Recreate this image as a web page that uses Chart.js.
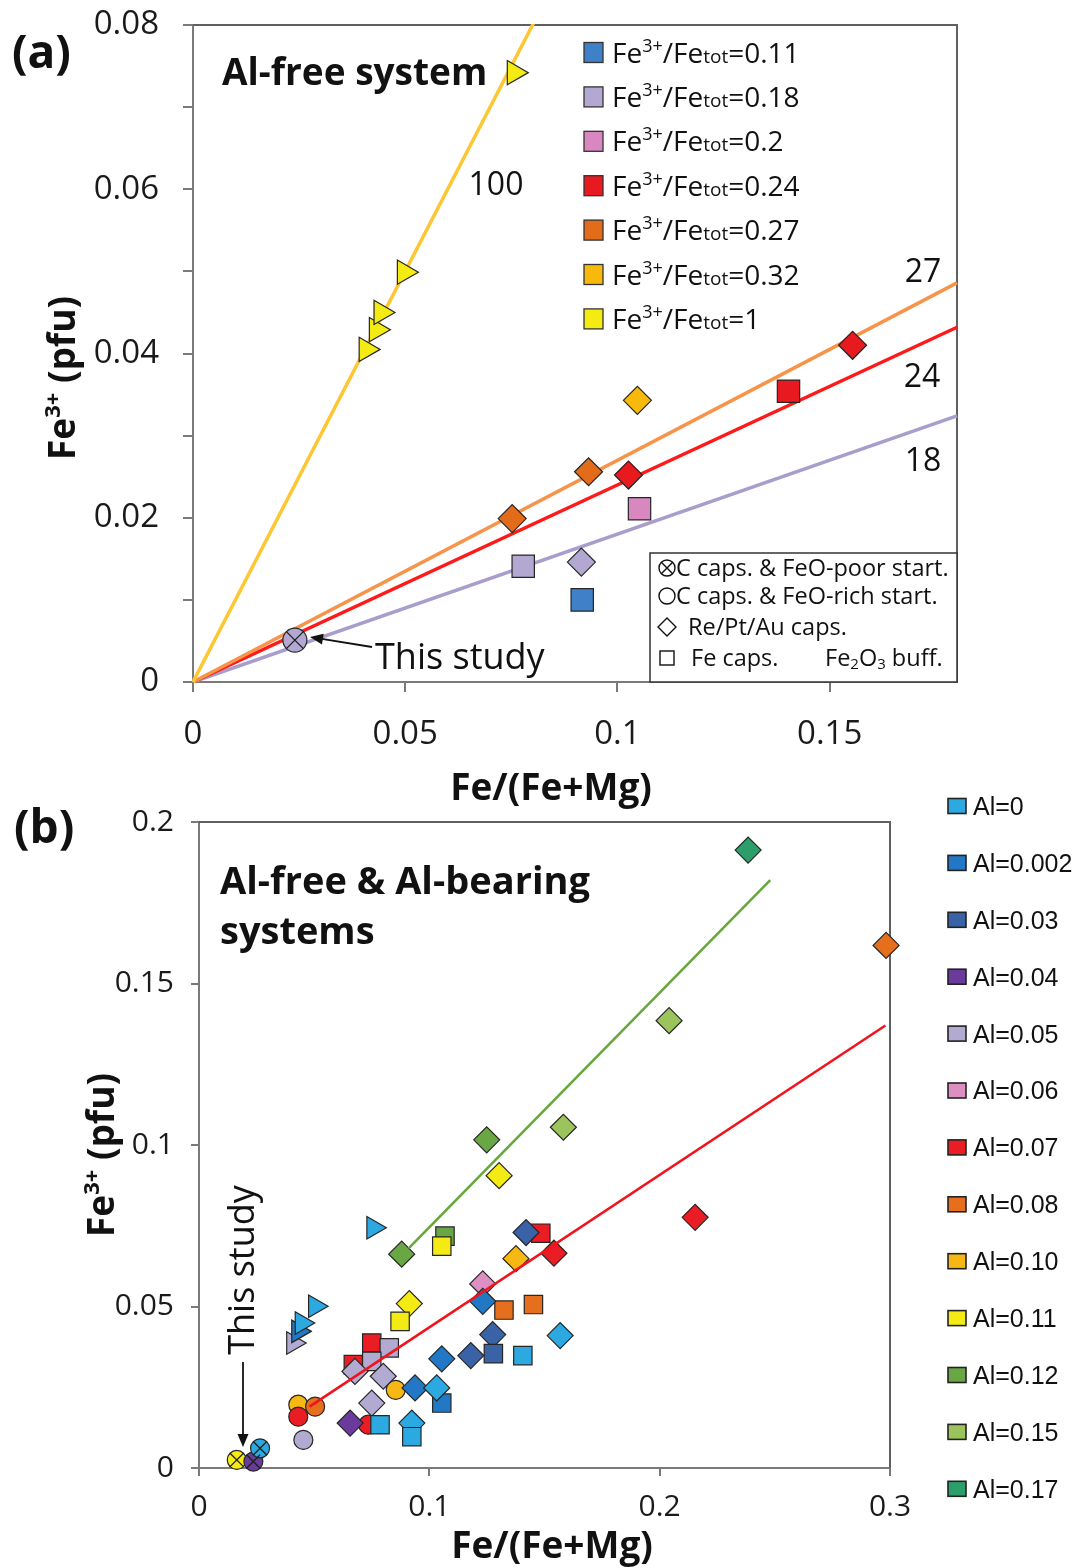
<!DOCTYPE html>
<html><head><meta charset="utf-8">
<script src="https://cdn.jsdelivr.net/npm/chart.js@4.4.1/dist/chart.umd.min.js"></script>
<style>
html,body{margin:0;padding:0;background:#fff;}
#wrap{position:relative;width:1089px;height:1568px;overflow:hidden;background:#fff;}
#ca{position:absolute;left:0;top:0;}
#cb{position:absolute;left:0;top:780px;}
</style></head><body>
<div id="wrap">
<canvas id="ca" width="1089" height="820"></canvas>
<canvas id="cb" width="1089" height="788"></canvas>
</div>
<script>
// ================= DATA =================
// Panel (a): Al-free system, grouped by Fe3+/Fetot
const aRatioLabels = ['0.11','0.18','0.2','0.24','0.27','0.32','1'];
const aX_011 = [0.0917];                     const aY_011 = [0.0100];                     const aCap_011 = ['Fe'];
const aX_018 = [0.0240, 0.0778, 0.0915];     const aY_018 = [0.0051, 0.0141, 0.0146];     const aCap_018 = ['Cpoor','Fe','Re'];
const aX_020 = [0.1052];                     const aY_020 = [0.0211];                     const aCap_020 = ['Fe'];
const aX_024 = [0.1026, 0.1403, 0.1554];     const aY_024 = [0.0252, 0.0354, 0.0410];     const aCap_024 = ['Re','Fe','Re'];
const aX_027 = [0.0752, 0.0932];             const aY_027 = [0.0199, 0.0256];             const aCap_027 = ['Re','Re'];
const aX_032 = [0.1047];                     const aY_032 = [0.0343];                     const aCap_032 = ['Re'];
const aX_100 = [0.0408, 0.0432, 0.0443, 0.0498, 0.0757];
const aY_100 = [0.0405, 0.0429, 0.0450, 0.0499, 0.0742];
const aCap_100 = ['buff','buff','buff','buff','buff'];
// reference lines Fe3+ = ratio * Fe/(Fe+Mg)
const aLineRatios = [1, 0.27, 0.24, 0.18];
const aLineTags = ['100','27','24','18'];
// axes
const aXRange = [0, 0.18];  const aXStep = 0.05;
const aYRange = [0, 0.08];  const aYStep = 0.01;  const aYLabelEvery = 0.02;

// Panel (b): Al-free & Al-bearing, grouped by Al content
const bAlLabels = ['0','0.002','0.03','0.04','0.05','0.06','0.07','0.08','0.10','0.11','0.12','0.15','0.17'];
const bX_000 = [0.0757, 0.1568, 0.1406, 0.1032, 0.0786, 0.0924, 0.0924, 0.0504, 0.0446, 0.0265];
const bY_000 = [0.0744, 0.0410, 0.0348, 0.0248, 0.0134, 0.0139, 0.0097, 0.0501, 0.0449, 0.0061];
const bCap_000 = ['buff','Re','Fe','Re','Fe','Re','Fe','buff','buff','Cpoor'];
const bX_002 = [0.1232, 0.1054, 0.0938, 0.1054, 0.0431];
const bY_002 = [0.0516, 0.0338, 0.0248, 0.0201, 0.0423];
const bCap_002 = ['Re','Re','Re','Fe','buff'];
const bX_03 = [0.1420, 0.1275, 0.1278, 0.1180];
const bY_03 = [0.0729, 0.0413, 0.0354, 0.0348];
const bCap_03 = ['Re','Re','Fe','Re'];
const bX_04 = [0.0656, 0.0236];
const bY_04 = [0.0139, 0.0020];
const bCap_04 = ['Re','Cpoor'];
const bX_05 = [0.0826, 0.0750, 0.0677, 0.0800, 0.0750, 0.0453, 0.0409];
const bY_05 = [0.0372, 0.0330, 0.0299, 0.0284, 0.0201, 0.0087, 0.0387];
const bCap_05 = ['Fe','Fe','Re','Re','Re','Crich','buff'];
const bX_06 = [0.1232];
const bY_06 = [0.0570];
const bCap_06 = ['Re'];
const bX_07 = [0.1484, 0.1541, 0.0750, 0.0670, 0.0735, 0.0431, 0.2154];
const bY_07 = [0.0727, 0.0665, 0.0387, 0.0320, 0.0134, 0.0159, 0.0776];
const bCap_07 = ['Fe','Re','Fe','Fe','Crich','Crich','Re'];
const bX_08 = [0.1324, 0.1452, 0.0504, 0.2983];
const bY_08 = [0.0489, 0.0506, 0.0190, 0.1618];
const bCap_08 = ['Fe','Fe','Crich','Re'];
const bX_10 = [0.1376, 0.0854, 0.0431];
const bY_10 = [0.0648, 0.0242, 0.0196];
const bCap_10 = ['Re','Crich','Crich'];
const bX_11 = [0.1303, 0.1054, 0.0913, 0.0873, 0.0164];
const bY_11 = [0.0905, 0.0687, 0.0509, 0.0454, 0.0025];
const bCap_11 = ['Re','Fe','Re','Fe','Cpoor'];
const bX_12 = [0.1249, 0.0880, 0.1068];
const bY_12 = [0.1016, 0.0662, 0.0718];
const bCap_12 = ['Re','Re','Fe'];
const bX_15 = [0.1582, 0.2041];
const bY_15 = [0.1055, 0.1385];
const bCap_15 = ['Re','Re'];
const bX_17 = [0.2384];
const bY_17 = [0.1913];
const bCap_17 = ['Re'];
// linear trends (end points)
const bTrendRed_x = [0.048, 0.298];   const bTrendRed_y = [0.019, 0.137];
const bTrendGreen_x = [0.091, 0.248]; const bTrendGreen_y = [0.068, 0.182];
// axes
const bXRange = [0, 0.3];  const bXStep = 0.1;
const bYRange = [0, 0.2];  const bYStep = 0.05;

// ================= STYLE =================
const FONT = "'Open Sans', 'DejaVu Sans', sans-serif";
const LEGB_FONT = "'Liberation Sans', Arial, sans-serif";
const AXIS_COLOR = '#7a7a7a';
const FRAME_COLOR = '#606060';
const EDGE = '#262626';
const aColors = ['#3F80C8','#B2A8D2','#D987C0','#E8191F','#E36C1B','#F7B90B','#F3EB12'];
const aLineColors = ['#FDC633','#F7944A','#FF1A1A','#A99DCC'];
const bColors = ['#2BA9E0','#2278C4','#3A62A6','#6A3A9C','#B3AAD2','#DD8FC2','#EB1D24','#E66F1E','#F8B814','#F5EB14','#69A744','#9CC45D','#2C9E6A'];

function capStyle(c){ return c==='Fe'?'rect':c==='Re'?'rectRot':c==='buff'?'triangle':'circle'; }
function mkSeries(label, color, xs, ys, caps, sizes){
  return {
    label, data: xs.map((x,i)=>({x, y: ys[i]})),
    pointStyle: caps.map(capStyle),
    pointRadius: caps.map(c=>sizes[capStyle(c)]),
    pointHoverRadius: caps.map(c=>sizes[capStyle(c)]),
    pointRotation: caps.map(c=>c==='buff'?90:0),
    backgroundColor: color, borderColor: EDGE, borderWidth: 1.2,
    showLine: false, clip: false, order: 1
  };
}
function mkCross(groups, sizes){
  const pts = [];
  groups.forEach(g=>g.caps.forEach((c,i)=>{ if(c==='Cpoor') pts.push({x:g.xs[i], y:g.ys[i]}); }));
  return { label:'_cross', data: pts, pointStyle:'crossRot', pointRadius: sizes.circle, pointHoverRadius: sizes.circle,
           borderColor: '#1e1e1e', borderWidth: 1.3, backgroundColor:'rgba(0,0,0,0)', showLine:false, clip:false, order:0 };
}
const fmt = v => { const r = +(+v).toFixed(3); return r===0 ? '0' : String(r); };

function fontStr(p){ return (p.b?'bold ':'') + p.s + 'px ' + (p.f||FONT); }
function drawRich(ctx, parts, x, y, o){
  o = o || {};
  let w = 0;
  parts.forEach(p=>{ ctx.font = fontStr(p); w += ctx.measureText(p.t).width; });
  ctx.save(); ctx.translate(x, y); if (o.rot) ctx.rotate(o.rot);
  let cx = o.align==='center' ? -w/2 : (o.align==='right' ? -w : 0);
  ctx.textAlign = 'left'; ctx.textBaseline = 'alphabetic'; ctx.fillStyle = o.color || '#111';
  const base = o.base || 0;
  parts.forEach(p=>{ ctx.font = fontStr(p); ctx.fillText(p.t, cx, base + (p.dy||0)); cx += ctx.measureText(p.t).width; });
  ctx.restore();
}
function txt(ctx, t, x, y, s, o){ o = Object.assign({}, o); o.base = 0.357*s;
  drawRich(ctx, [{t, s, b:o.b, f:o.f}], x, y, o); }
function arrow(ctx, x1, y1, x2, y2){
  const a = Math.atan2(y2-y1, x2-x1), L = 13, W = 5.5;
  ctx.save(); ctx.strokeStyle = '#111'; ctx.fillStyle = '#111'; ctx.lineWidth = 1.8;
  ctx.beginPath(); ctx.moveTo(x1,y1); ctx.lineTo(x2 - Math.cos(a)*L*0.8, y2 - Math.sin(a)*L*0.8); ctx.stroke();
  ctx.beginPath(); ctx.moveTo(x2,y2);
  ctx.lineTo(x2 - Math.cos(a)*L - Math.sin(a)*W, y2 - Math.sin(a)*L + Math.cos(a)*W);
  ctx.lineTo(x2 - Math.cos(a)*L + Math.sin(a)*W, y2 - Math.sin(a)*L - Math.cos(a)*W);
  ctx.closePath(); ctx.fill(); ctx.restore();
}
const framePlugin = { id:'frame', beforeDatasetsDraw(chart){
  const {ctx, chartArea:c} = chart; ctx.save(); ctx.strokeStyle = FRAME_COLOR; ctx.lineWidth = 2;
  ctx.beginPath(); ctx.moveTo(c.left, c.top); ctx.lineTo(c.right, c.top); ctx.lineTo(c.right, c.bottom); ctx.stroke(); ctx.restore(); } };

function scaleOpts(range, step, fontSize, pad, tickLen, cb, fit){
  return {
    type:'linear', min: range[0], max: range[1],
    grid:{display:true, drawOnChartArea:false, drawTicks:true, tickLength:tickLen, color:AXIS_COLOR, lineWidth:2},
    border:{display:true, color:AXIS_COLOR, width:2},
    ticks:{stepSize: step, color:'#1a1a1a', font:{family:FONT, size:fontSize}, padding:pad, autoSkip:false, maxRotation:0, includeBounds:false, callback: cb},
    title:{display:false},
    afterFit: fit
  };
}

// ================= PANEL (a) =================
const aSizes = {rect:15.8, rectRot:14, circle:12, triangle:14};
const aGroups = [
  {xs:aX_011, ys:aY_011, caps:aCap_011}, {xs:aX_018, ys:aY_018, caps:aCap_018}, {xs:aX_020, ys:aY_020, caps:aCap_020},
  {xs:aX_024, ys:aY_024, caps:aCap_024}, {xs:aX_027, ys:aY_027, caps:aCap_027}, {xs:aX_032, ys:aY_032, caps:aCap_032},
  {xs:aX_100, ys:aY_100, caps:aCap_100}
];
const aSets = aGroups.map((g,i)=>mkSeries('Fe³⁺/Feₜₒₜ='+aRatioLabels[i], aColors[i], g.xs, g.ys, g.caps, aSizes));
const aLineSets = aLineRatios.map((r,i)=>({
  label:'_line'+aLineTags[i], data:[{x:aXRange[0], y:aXRange[0]*r},{x:aXRange[1], y:aXRange[1]*r}],
  showLine:true, pointRadius:0, pointHoverRadius:0, borderColor:aLineColors[i], borderWidth:3.5, clip:1, order:5
}));

const decorA = { id:'decorA', afterDraw(chart){
  const ctx = chart.ctx;
  // panel tag & titles
  txt(ctx, '(a)', 12, 52, 46, {b:true});
  txt(ctx, 'Al-free system', 222, 72, 37, {b:true});
  drawRich(ctx, [{t:'Fe',s:37,b:1},{t:'3+',s:22,b:1,dy:-15},{t:' (pfu)',s:37,b:1}], 62, 378, {rot:-Math.PI/2, align:'center', base:13});
  txt(ctx, 'Fe/(Fe+Mg)', 551, 787, 37, {b:true, align:'center'});
  // line tags
  const tagPos = [[496,184],[923,271],[922,376],[923,460]];
  aLineTags.forEach((t,i)=>txt(ctx, t, tagPos[i][0], tagPos[i][1], 32, {align:'center'}));
  // this study
  txt(ctx, 'This study', 375, 656, 36, {});
  arrow(ctx, 372, 647, 310, 637);
  // series legend
  aSets.forEach((s,i)=>{
    const cy = 52.5 + i*44.4;
    ctx.save(); ctx.fillStyle = aColors[i]; ctx.strokeStyle = '#333'; ctx.lineWidth = 1.3;
    ctx.fillRect(584, cy-10, 19, 20); ctx.strokeRect(584, cy-10, 19, 20); ctx.restore();
    drawRich(ctx, [{t:'Fe',s:28},{t:'3+',s:18,dy:-11},{t:'/Fe',s:28},{t:'tot',s:19},{t:'='+aRatioLabels[i],s:28}], 612, cy+10, {});
  });
  // capsule legend box
  ctx.save(); ctx.fillStyle = '#fff'; ctx.strokeStyle = '#333'; ctx.lineWidth = 1.5;
  ctx.fillRect(650, 553, 307, 129); ctx.strokeRect(650, 553, 307, 129);
  ctx.strokeStyle = '#111'; ctx.lineWidth = 1.4;
  ctx.beginPath(); ctx.arc(667, 568, 8, 0, Math.PI*2); ctx.stroke();
  ctx.beginPath(); ctx.moveTo(661.3,562.3); ctx.lineTo(672.7,573.7); ctx.moveTo(672.7,562.3); ctx.lineTo(661.3,573.7); ctx.stroke();
  ctx.beginPath(); ctx.arc(667, 596, 8, 0, Math.PI*2); ctx.stroke();
  ctx.beginPath(); ctx.moveTo(667,618); ctx.lineTo(676,627); ctx.lineTo(667,636); ctx.lineTo(658,627); ctx.closePath(); ctx.stroke();
  ctx.strokeRect(660, 651, 14, 14);
  ctx.restore();
  txt(ctx, 'C caps. & FeO-poor start.', 676, 568, 23.5, {});
  txt(ctx, 'C caps. & FeO-rich start.', 676, 596, 23.5, {});
  txt(ctx, 'Re/Pt/Au caps.', 688, 627, 23.5, {});
  txt(ctx, 'Fe caps.', 691, 658, 23.5, {});
  drawRich(ctx, [{t:'Fe',s:23.5},{t:'2',s:15,dy:3},{t:'O',s:23.5},{t:'3',s:15,dy:3},{t:' buff.',s:23.5}], 825, 658, {base:8.4});
}};

new Chart(document.getElementById('ca'), {
  type:'scatter',
  data:{ datasets:[...aSets, mkCross(aGroups, aSizes), ...aLineSets] },
  options:{
    responsive:false, animation:false, events:[],
    layout:{padding:{top:25, right:132, left:0, bottom:0}},
    plugins:{legend:{display:false}, tooltip:{enabled:false}},
    scales:{
      x: Object.assign(scaleOpts(aXRange, aXStep, 33, 23, 10, v=>fmt(v), s=>{s.height=138; s.paddingLeft=0; s.paddingRight=0;}), {position:'bottom'}),
      y: Object.assign(scaleOpts(aYRange, aYStep, 33, 24, 10,
           v=>(Math.round(v/aYStep) % Math.round(aYLabelEvery/aYStep) === 0 ? fmt(v) : ''),
           s=>{s.width=193; s.paddingTop=0; s.paddingBottom=0;}), {position:'left'})
    }
  },
  plugins:[framePlugin, decorA]
});

// ================= PANEL (b) =================
const bSizes = {rect:13, rectRot:13, circle:9.5, triangle:13};
const bGroups = [
  {xs:bX_000, ys:bY_000, caps:bCap_000}, {xs:bX_002, ys:bY_002, caps:bCap_002}, {xs:bX_03, ys:bY_03, caps:bCap_03},
  {xs:bX_04, ys:bY_04, caps:bCap_04}, {xs:bX_05, ys:bY_05, caps:bCap_05}, {xs:bX_06, ys:bY_06, caps:bCap_06},
  {xs:bX_07, ys:bY_07, caps:bCap_07}, {xs:bX_08, ys:bY_08, caps:bCap_08}, {xs:bX_10, ys:bY_10, caps:bCap_10},
  {xs:bX_11, ys:bY_11, caps:bCap_11}, {xs:bX_12, ys:bY_12, caps:bCap_12}, {xs:bX_15, ys:bY_15, caps:bCap_15},
  {xs:bX_17, ys:bY_17, caps:bCap_17}
];
const bSets = bGroups.map((g,i)=>mkSeries('Al='+bAlLabels[i], bColors[i], g.xs, g.ys, g.caps, bSizes));
const bTrendSets = [
  {label:'_trendGreen', data:bTrendGreen_x.map((x,i)=>({x, y:bTrendGreen_y[i]})), showLine:true, pointRadius:0, pointHoverRadius:0, borderColor:'#67A83C', borderWidth:2.6, clip:1, order:-1},
  {label:'_trendRed', data:bTrendRed_x.map((x,i)=>({x, y:bTrendRed_y[i]})), showLine:true, pointRadius:0, pointHoverRadius:0, borderColor:'#F2141C', borderWidth:2.6, clip:1, order:-1}
];

const decorB = { id:'decorB', afterDraw(chart){
  const ctx = chart.ctx;
  txt(ctx, '(b)', 14, 47, 46, {b:true});
  txt(ctx, 'Al-free & Al-bearing', 220, 100, 38, {b:true});
  txt(ctx, 'systems', 220, 150, 38, {b:true});
  drawRich(ctx, [{t:'Fe',s:37,b:1},{t:'3+',s:22,b:1,dy:-15},{t:' (pfu)',s:37,b:1}], 101, 375, {rot:-Math.PI/2, align:'center', base:13});
  txt(ctx, 'Fe/(Fe+Mg)', 552, 765, 37, {b:true, align:'center'});
  txt(ctx, 'This study', 241, 490, 36, {rot:-Math.PI/2, align:'center'});
  arrow(ctx, 243, 582, 243, 667);
  // legend
  bSets.forEach((s,i)=>{
    const cy = 26 + i*56.9;
    ctx.save(); ctx.fillStyle = bColors[i]; ctx.strokeStyle = '#222'; ctx.lineWidth = 1.6;
    ctx.fillRect(948, cy-7.5, 18, 15); ctx.strokeRect(948, cy-7.5, 18, 15); ctx.restore();
    txt(ctx, s.label, 973, cy, 25, {f:LEGB_FONT});
  });
}};

new Chart(document.getElementById('cb'), {
  type:'scatter',
  data:{ datasets:[...bSets, mkCross(bGroups, bSizes), ...bTrendSets] },
  options:{
    responsive:false, animation:false, events:[],
    layout:{padding:{top:42, right:199, left:0, bottom:0}},
    plugins:{legend:{display:false}, tooltip:{enabled:false}},
    scales:{
      x: Object.assign(scaleOpts(bXRange, bXStep, 30, 13, 8, v=>fmt(v), s=>{s.height=100; s.paddingLeft=0; s.paddingRight=0;}), {position:'bottom'}),
      y: Object.assign(scaleOpts(bYRange, bYStep, 30, 17, 8, v=>fmt(v), s=>{s.width=199; s.paddingTop=0; s.paddingBottom=0;}), {position:'left'})
    }
  },
  plugins:[framePlugin, decorB]
});
</script>
</body></html>
